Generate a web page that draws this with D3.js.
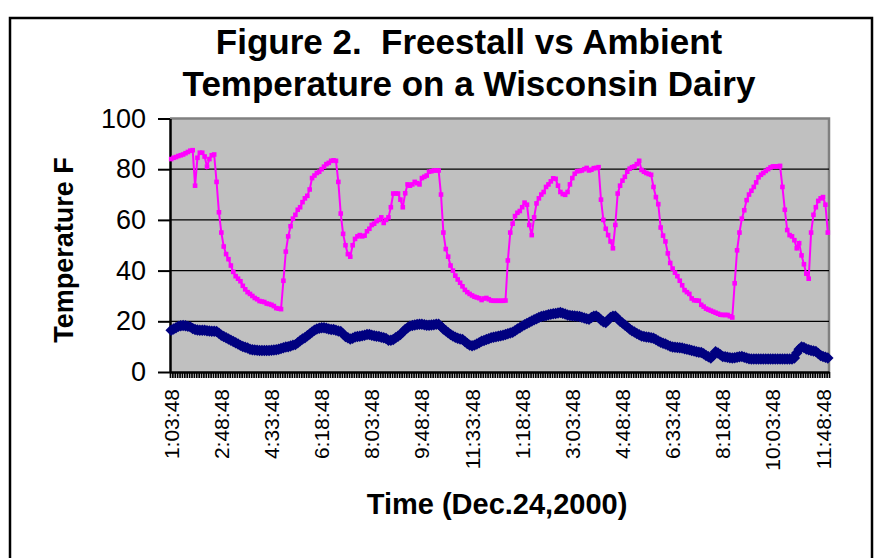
<!DOCTYPE html>
<html>
<head>
<meta charset="utf-8">
<script src="https://cdn.jsdelivr.net/npm/d3@7"></script>
<style>
body { margin: 0; background: #fff; }
svg text { font-family: Arial, "Liberation Sans", sans-serif; fill: #000; }
</style>
</head>
<body>
<svg id="chart" width="878" height="558"></svg>
<script>
// x labels, one every 21 samples (5 min readings)
const timeLabels = ['1:03:48', '2:48:48', '4:33:48', '6:18:48', '8:03:48', '9:48:48', '11:33:48',
	'1:18:48', '3:03:48', '4:48:48', '6:33:48', '8:18:48', '10:03:48', '11:48:48'];
const labelStep = 21;
const yTicks = [0, 20, 40, 60, 80, 100];

// freestall temperature (F), rows of 21 readings
const freestall = [
	84.0, 84.5, 84.8, 85.2, 85.5, 85.8, 86.3, 86.8, 87.3, 87.5, 73.5, 84.5, 86.5, 86.5, 85.0, 81.0, 84.0, 85.5, 85.8, 75.0, 63.0,
	55.0, 49.5, 46.5, 44.5, 42.0, 39.5, 37.8, 36.8, 35.8, 34.0, 32.6, 31.5, 30.8, 30.0, 29.2, 28.7, 28.0, 27.8, 27.6, 27.0, 26.8,
	26.5, 26.0, 25.2, 25.0, 24.8, 36.0, 47.5, 53.5, 57.5, 60.5, 62.0, 64.0, 65.0, 67.0, 68.5, 69.5, 72.0, 76.5, 77.5, 78.5, 79.0,
	80.0, 81.0, 82.0, 82.5, 83.3, 83.5, 83.3, 75.0, 62.5, 54.5, 50.0, 46.5, 45.5, 50.0, 52.5, 53.5, 54.0, 53.5, 53.8, 55.5, 56.5,
	58.0, 58.5, 59.5, 60.0, 61.0, 58.8, 60.0, 61.0, 65.0, 70.4, 70.4, 70.4, 68.0, 65.0, 70.5, 74.0, 73.5, 74.0, 75.0, 74.5, 74.0,
	76.5, 77.0, 77.5, 79.0, 79.2, 79.5, 79.5, 79.5, 70.0, 55.0, 48.5, 45.5, 42.0, 40.0, 38.0, 36.5, 35.2, 33.8, 32.4, 31.5, 30.8,
	30.2, 29.7, 29.4, 29.1, 28.4, 29.0, 29.2, 28.7, 28.2, 28.1, 28.1, 28.1, 28.1, 28.1, 28.2, 44.0, 55.0, 58.5, 61.5, 62.8, 63.5,
	65.0, 66.8, 66.0, 58.0, 54.0, 61.0, 66.5, 68.5, 70.0, 71.0, 73.0, 74.0, 75.2, 76.4, 76.2, 73.5, 71.0, 70.2, 69.9, 71.0, 74.0,
	76.5, 78.2, 79.2, 79.3, 79.5, 80.0, 80.5, 79.5, 79.8, 80.4, 80.5, 80.8, 68.0, 60.0, 56.5, 54.0, 51.5, 48.8, 58.0, 70.4, 73.5,
	75.5, 77.0, 79.0, 80.2, 80.8, 81.1, 82.0, 83.3, 79.7, 79.0, 78.5, 78.1, 77.8, 73.0, 69.0, 66.2, 57.0, 53.8, 51.5, 46.8, 43.0,
	40.8, 39.2, 37.8, 36.0, 34.2, 32.3, 31.5, 30.8, 29.0, 28.3, 28.2, 28.1, 26.5, 25.8, 25.0, 24.6, 24.2, 23.8, 23.4, 23.0, 22.6,
	22.5, 22.5, 22.5, 22.0, 21.5, 35.0, 48.0, 55.0, 60.5, 63.8, 67.8, 70.0, 71.5, 73.0, 74.8, 76.8, 77.8, 78.5, 79.3, 80.0, 80.7,
	81.1, 81.1, 81.1, 81.3, 73.0, 64.0, 56.0, 54.0, 53.5, 52.0, 48.8, 50.8, 46.0, 42.5, 38.8, 36.8, 55.0, 62.0, 65.0, 67.5, 68.5,
	69.0, 66.0, 55.0
];

// ambient temperature (F)
const ambient = [
	16.5, 17.0, 17.5, 18.0, 18.2, 18.3, 18.2, 18.0, 17.8, 17.2, 16.8, 16.6, 16.5, 16.5, 16.5, 16.3, 16.2, 16.1, 16.1, 16.0, 15.3,
	14.5, 14.0, 13.5, 13.0, 12.5, 12.0, 11.5, 11.0, 10.5, 10.1, 9.8, 9.5, 9.0, 8.8, 8.7, 8.6, 8.5, 8.5, 8.5, 8.5, 8.5,
	8.6, 8.7, 8.8, 9.0, 9.3, 9.6, 9.9, 10.0, 10.3, 10.6, 10.8, 11.5, 12.3, 13.0, 13.5, 14.3, 15.0, 15.8, 16.5, 17.0, 17.3,
	17.5, 17.5, 17.3, 17.0, 16.8, 16.8, 16.5, 16.2, 16.0, 15.0, 14.0, 13.5, 13.0, 13.3, 13.8, 14.0, 14.1, 14.3, 14.5, 14.8, 14.8,
	14.5, 14.3, 14.1, 14.0, 13.7, 13.5, 13.2, 12.5, 12.5, 12.8, 13.5, 14.1, 14.8, 15.8, 16.8, 17.5, 18.1, 18.3, 18.5, 18.7, 18.8,
	18.8, 18.6, 18.4, 18.4, 18.5, 18.6, 18.8, 18.8, 18.0, 17.0, 16.3, 15.5, 14.8, 14.2, 13.7, 13.3, 13.0, 12.8, 12.0, 11.2, 10.6,
	10.4, 10.6, 11.0, 11.5, 12.1, 12.4, 12.8, 13.1, 13.5, 13.7, 13.9, 14.1, 14.3, 14.5, 14.8, 15.1, 15.4, 15.7, 16.3, 17.0, 17.5,
	18.1, 18.6, 19.1, 19.6, 20.1, 20.6, 21.0, 21.5, 21.9, 22.1, 22.3, 22.6, 22.8, 23.0, 23.1, 23.3, 23.5, 23.2, 22.9, 22.5, 22.3,
	22.2, 22.1, 22.0, 21.9, 21.6, 21.3, 21.0, 20.8, 21.5, 22.0, 22.1, 21.5, 20.5, 19.8, 19.5, 20.5, 21.5, 22.0, 22.0, 21.0, 20.0,
	19.3, 18.5, 17.8, 17.0, 16.3, 15.8, 15.2, 14.7, 14.2, 14.0, 13.8, 13.7, 13.5, 13.3, 12.8, 12.2, 11.7, 11.3, 11.0, 10.6, 10.2,
	9.9, 9.8, 9.7, 9.6, 9.5, 9.2, 9.0, 8.8, 8.5, 8.3, 8.0, 7.8, 7.7, 7.2, 6.5, 6.0, 5.5, 6.5, 8.0, 7.5, 6.8,
	6.1, 6.0, 5.8, 5.6, 5.5, 5.6, 5.8, 6.0, 6.1, 5.8, 5.5, 5.2, 5.1, 5.1, 5.1, 5.1, 5.1, 5.1, 5.1, 5.1, 5.1,
	5.1, 5.1, 5.1, 5.1, 5.1, 5.1, 5.1, 5.1, 5.1, 5.5, 7.5, 9.0, 9.9, 9.7, 9.1, 8.8, 8.5, 8.3, 8.1, 7.3, 6.5,
	6.1, 5.8, 5.5
];

const svg = d3.select('#chart');
const plot = { left: 170, right: 829, top: 118.5, bottom: 372 };
const idx = d3.range(freestall.length);

const x = d3.scaleBand().domain(idx).range([plot.left, plot.right]);
const xEdge = d3.scaleLinear().domain([0, idx.length]).range([plot.left, plot.right]); // category boundaries
const y = d3.scaleLinear().domain([0, 100]).range([plot.bottom, plot.top]);
const cx = (i) => x(i) + x.bandwidth() / 2;

// chart border
svg.append('rect').attr('x', 10).attr('y', 18).attr('width', 862).attr('height', 620)
	.attr('fill', 'none').attr('stroke', '#000').attr('stroke-width', 2.5);

// plot area
svg.append('rect').attr('x', plot.left).attr('y', plot.top).attr('width', plot.right - plot.left).attr('height', plot.bottom - plot.top)
	.attr('fill', '#c0c0c0');
svg.append('path').attr('d', `M${plot.left},${plot.top}H${plot.right}V${plot.bottom}`)
	.attr('fill', 'none').attr('stroke', '#808080').attr('stroke-width', 2.5);

// gridlines
svg.append('g').selectAll('line').data(yTicks.slice(1, -1)).join('line')
	.attr('x1', plot.left).attr('x2', plot.right).attr('y1', (d) => y(d)).attr('y2', (d) => y(d))
	.attr('stroke', '#000').attr('stroke-width', 1.2);

// y axis
const yAxis = svg.append('g').attr('transform', `translate(${plot.left},0)`)
	.call(d3.axisLeft(y).tickValues(yTicks).tickSize(12).tickSizeOuter(0).tickPadding(12));
yAxis.selectAll('line').attr('stroke-width', 2);
yAxis.select('.domain').attr('stroke-width', 2.5);
yAxis.selectAll('text').style('font-size', '27px');

// x axis: a tick between every reading, labels every 21
const xTicks = svg.append('g').attr('transform', `translate(0,${plot.bottom})`)
	.call(d3.axisBottom(xEdge).tickValues(d3.range(idx.length + 1)).tickSize(6).tickSizeOuter(0).tickFormat(''));
xTicks.selectAll('line').attr('stroke-width', 1.7);
xTicks.select('.domain').attr('stroke-width', 2.5);

const labelIdx = timeLabels.map((d, i) => i * labelStep);
const xLabels = svg.append('g').attr('transform', `translate(0,${plot.bottom})`)
	.call(d3.axisBottom(x).tickValues(labelIdx).tickSize(0).tickFormat((d) => timeLabels[d / labelStep]));
xLabels.select('.domain').remove();
xLabels.selectAll('text').attr('transform', 'rotate(-90)').attr('x', -17).attr('y', 0).attr('dy', '0.36em')
	.style('text-anchor', 'end').style('font-size', '21px');

// series
const line = (vals) => d3.line().x((d, i) => cx(i)).y((d) => y(d))(vals);

svg.append('path').attr('d', line(ambient)).attr('fill', 'none').attr('stroke', '#000080').attr('stroke-width', 4.5);
svg.append('g').selectAll('path').data(ambient).join('path')
	.attr('d', d3.symbol(d3.symbolDiamond2, 84))
	.attr('transform', (d, i) => `translate(${cx(i)},${y(d)})`)
	.attr('fill', '#000080');

svg.append('path').attr('d', line(freestall)).attr('fill', 'none').attr('stroke', '#ff00ff').attr('stroke-width', 2);
svg.append('g').selectAll('rect').data(freestall).join('rect')
	.attr('x', (d, i) => cx(i) - 2.3).attr('y', (d) => y(d) - 2.3).attr('width', 4.6).attr('height', 4.6)
	.attr('fill', '#ff00ff');

// titles
const title = svg.append('text').attr('x', 469).attr('text-anchor', 'middle')
	.style('font-size', '35px').style('font-weight', 'bold').style('white-space', 'pre');
title.append('tspan').attr('x', 469).attr('y', 54).text('Figure 2.  Freestall vs Ambient');
title.append('tspan').attr('x', 469).attr('y', 96).text('Temperature on a Wisconsin Dairy');

svg.append('text').attr('transform', 'translate(73,250) rotate(-90)').attr('text-anchor', 'middle')
	.style('font-size', '27px').style('font-weight', 'bold').text('Temperature F');

svg.append('text').attr('x', 497).attr('y', 514).attr('text-anchor', 'middle')
	.style('font-size', '29px').style('font-weight', 'bold').text('Time (Dec.24,2000)');
</script>
</body>
</html>
